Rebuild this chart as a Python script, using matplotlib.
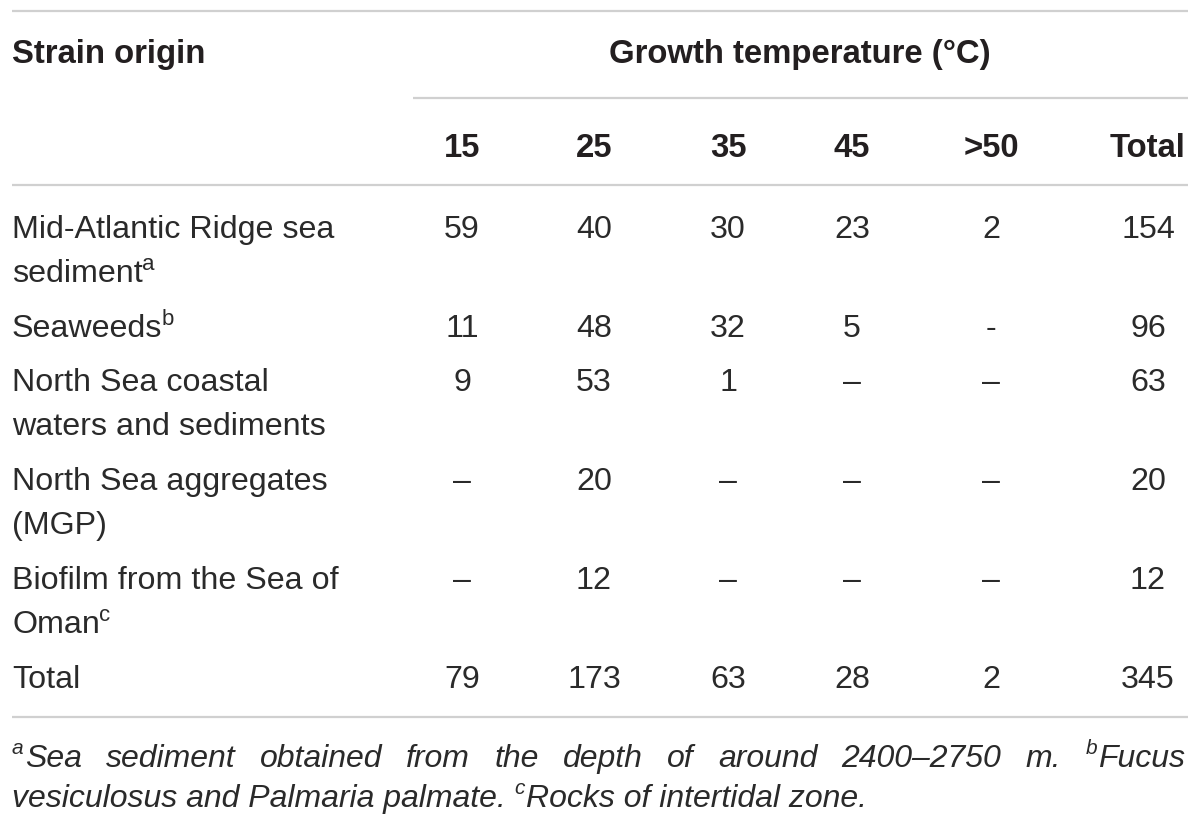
import matplotlib
matplotlib.use("Agg")
import matplotlib.pyplot as plt

# ---------------- data ----------------
header_left = "Strain origin"
header_group = "Growth temperature (°C)"
col_headers = ["15", "25", "35", "45", ">50", "Total"]

origin_lines = [
    ["Mid-Atlantic Ridge sea", "sediment"],
    ["Seaweeds"],
    ["North Sea coastal", "waters and sediments"],
    ["North Sea aggregates", "(MGP)"],
    ["Biofilm from the Sea of", "Oman"],
    ["Total"],
]
origin_sup = ["a", "b", "", "", "c", ""]

t15 = ["59", "11", "9", "–", "–", "79"]
t25 = ["40", "48", "53", "20", "12", "173"]
t35 = ["30", "32", "1", "–", "–", "63"]
t45 = ["23", "5", "–", "–", "–", "28"]
t50 = ["2", "-", "–", "–", "–", "2"]
total = ["154", "96", "63", "20", "12", "345"]

footnote_line1 = [("a", "Sea"), ("", "sediment"), ("", "obtained"), ("", "from"), ("", "the"),
                  ("", "depth"), ("", "of"), ("", "around"), ("", "2400–2750"), ("", "m."),
                  ("b", "Fucus")]
footnote_line2 = [("", "vesiculosus and Palmaria palmate. "), ("c", "Rocks of intertidal zone.")]

# ---------------- layout ----------------
W, H = 1200, 829
fig = plt.figure(figsize=(W / 100, H / 100), dpi=100)
ax = fig.add_axes([0, 0, 1, 1])
ax.set_xlim(0, W)
ax.set_ylim(H, 0)
ax.axis("off")
renderer = fig.canvas.get_renderer()

FONT = "Liberation Sans"
TXT = "#231f20"
BODY = "#2a2a2a"
LINE = "#d0d0d0"
FS = 23.2
HFS = 23.7
SUP_FS = 16
SUP_RISE = 12
FOOT_FS = 23
FOOT_SUP_FS = 15
FOOT_SUP_RISE = 13

col_x = [462, 594, 728, 852, 991, 1148]
row_base = [238, 337, 391, 490, 589, 688]
line_gap = 44
left_x = 12

def width_of(t):
    return t.get_window_extent(renderer).width

def run(x, y, text, size, style="normal", weight="normal", color=BODY):
    t = ax.text(x, y, text, fontsize=size, family=FONT, style=style, weight=weight,
                color=color, ha="left", va="baseline")
    return x + width_of(t), t

# rules
ax.hlines(12, 12, 1188, color=LINE, lw=1.6)
ax.hlines(99, 413, 1188, color=LINE, lw=1.6)
ax.hlines(186, 12, 1188, color=LINE, lw=1.6)
ax.hlines(718, 12, 1188, color=LINE, lw=1.6)

# header
ax.text(left_x, 63, header_left, fontsize=HFS, family=FONT, weight="bold", color=TXT,
        ha="left", va="baseline")
ax.text(800, 63, header_group, fontsize=HFS, family=FONT, weight="bold", color=TXT,
        ha="center", va="baseline")
for cx, h in zip(col_x, col_headers):
    ax.text(cx, 157, h, fontsize=HFS, family=FONT, weight="bold", color=TXT,
            ha="center", va="baseline")

# body
columns = [t15, t25, t35, t45, t50, total]
for i, (lines, sup) in enumerate(zip(origin_lines, origin_sup)):
    yb = row_base[i]
    for j, ln in enumerate(lines):
        x_end, _ = run(left_x, yb + j * line_gap, ln, FS)
        if j == len(lines) - 1 and sup:
            run(x_end - 1, yb + j * line_gap - SUP_RISE, sup, SUP_FS)
    for cx, col in zip(col_x, columns):
        ax.text(cx, yb, col[i], fontsize=FS, family=FONT, color=BODY,
                ha="center", va="baseline")

# footnote (first line justified)
fy1, fy2 = 767, 807
items = []
total_w = 0
for sup, word in footnote_line1:
    parts = []
    if sup:
        t = ax.text(0, fy1 - FOOT_SUP_RISE, sup, fontsize=FOOT_SUP_FS, family=FONT,
                    style="italic", color=BODY, ha="left", va="baseline")
        parts.append((t, width_of(t) + 1))
    t = ax.text(0, fy1, word, fontsize=FOOT_FS, family=FONT, style="italic",
                color=BODY, ha="left", va="baseline")
    parts.append((t, width_of(t)))
    w = sum(p[1] for p in parts)
    items.append((parts, w))
    total_w += w
gap = (1185 - left_x - total_w) / (len(items) - 1)
x = left_x
for parts, w in items:
    xx = x
    for t, pw in parts:
        t.set_x(xx)
        xx += pw
    x += w + gap

x = left_x
for sup, seg in footnote_line2:
    if sup:
        x, _ = run(x, fy2 - FOOT_SUP_RISE, sup, FOOT_SUP_FS, style="italic")
        x += 1
    x, _ = run(x, fy2, seg, FOOT_FS, style="italic")

fig.savefig("out.png", dpi=100)
